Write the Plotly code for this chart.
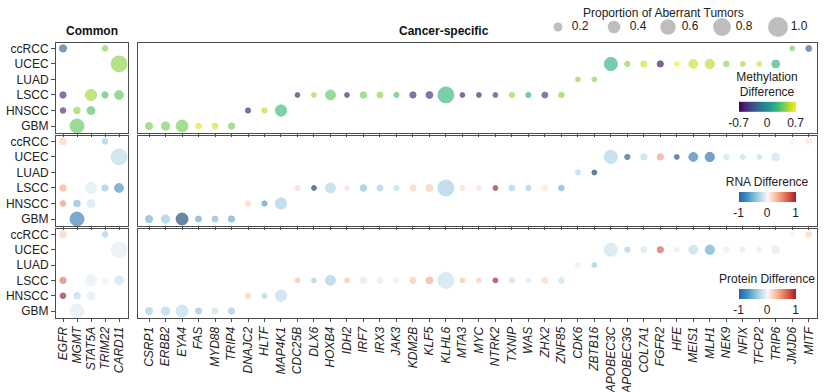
import plotly.graph_objects as go
import plotly.colors as pc

# ---------------- data ----------------
cancers = ["GBM", "HNSCC", "LSCC", "LUAD", "UCEC", "ccRCC"]  # bottom -> top

common_genes = ["EGFR", "MGMT", "STAT5A", "TRIM22", "CARD11"]
common_gene = ["EGFR", "TRIM22", "CARD11", "EGFR", "STAT5A", "TRIM22", "CARD11",
               "EGFR", "MGMT", "STAT5A", "MGMT"]
common_cancer = ["ccRCC", "ccRCC", "UCEC", "LSCC", "LSCC", "LSCC", "LSCC",
                 "HNSCC", "HNSCC", "HNSCC", "GBM"]
common_prop = [0.13, 0.08, 0.64, 0.10, 0.32, 0.10, 0.20, 0.08, 0.11, 0.16, 0.49]
common_meth = [-0.25, 0.45, 0.45, -0.55, 0.50, 0.30, 0.35, -0.55, 0.45, 0.30, 0.35]
common_rna = [0.20, -0.35, -0.25, 0.40, -0.12, -0.40, -0.75, 0.50, -0.50, -0.15, -0.90]
common_prot = [0.20, -0.35, -0.08, 0.65, -0.08, -0.05, -0.20, 1.20, -0.25, -0.12, -0.10]

spec_genes = ["CSRP1", "ERBB2", "EYA4", "FAS", "MYD88", "TRIP4", "DNAJC2", "HLTF",
              "MAP4K1", "CDC25B", "DLX6", "HOXB4", "IDH2", "IRF7", "IRX3", "JAK3",
              "KDM2B", "KLF5", "KLHL6", "MTA3", "MYC", "NTRK2", "TXNIP", "WAS",
              "ZHX2", "ZNF85", "CDK6", "ZBTB16", "APOBEC3C", "APOBEC3G", "COL7A1",
              "FGFR2", "HFE", "MEIS1", "MLH1", "NEK9", "NFIX", "TFCP2", "TRIP6",
              "JMJD6", "MITF"]
spec_cancer = ["GBM", "GBM", "GBM", "GBM", "GBM", "GBM", "HNSCC", "HNSCC", "HNSCC",
               "LSCC", "LSCC", "LSCC", "LSCC", "LSCC", "LSCC", "LSCC", "LSCC", "LSCC",
               "LSCC", "LSCC", "LSCC", "LSCC", "LSCC", "LSCC", "LSCC", "LSCC",
               "LUAD", "LUAD", "UCEC", "UCEC", "UCEC", "UCEC", "UCEC", "UCEC", "UCEC",
               "UCEC", "UCEC", "UCEC", "UCEC", "ccRCC", "ccRCC"]
spec_prop = [0.13, 0.17, 0.36, 0.09, 0.09, 0.10, 0.07, 0.07, 0.32,
             0.06, 0.06, 0.25, 0.06, 0.11, 0.09, 0.07, 0.10, 0.12, 0.64, 0.06,
             0.06, 0.06, 0.08, 0.07, 0.09, 0.08, 0.06, 0.06,
             0.44, 0.07, 0.10, 0.10, 0.06, 0.20, 0.22, 0.08, 0.06, 0.06, 0.16,
             0.06, 0.09]
spec_meth = [0.42, 0.40, 0.40, 0.65, 0.60, 0.40, -0.60, 0.55, 0.25,
             -0.60, 0.50, 0.35, -0.60, 0.40, 0.45, 0.30, -0.55, -0.55, 0.22, -0.60,
             -0.60, -0.55, 0.50, 0.20, -0.50, 0.45, 0.45, 0.45,
             0.20, 0.45, 0.60, -0.65, 0.70, 0.60, 0.55, 0.45, 0.50, 0.62, 0.20,
             0.40, -0.30]
spec_rna = [-0.55, -0.40, -1.40, -0.60, -0.50, -0.60, 0.20, -0.70, -0.35,
            0.20, -1.50, -0.30, 0.15, -0.45, -0.35, -0.25, 0.20, 0.25, -0.35, 0.15,
            0.15, 1.20, -0.35, -0.35, 0.10, -0.55, -0.30, -1.50,
            -0.30, -1.20, -0.25, 0.45, -1.30, -0.95, -1.00, -0.18, -0.25, -0.25, -0.18,
            0.05, 0.12]
spec_prot = [-0.35, -0.30, -0.25, -0.45, -0.20, -0.40, 0.25, -0.30, -0.25,
             0.30, -0.35, -0.35, 0.30, -0.12, -0.12, -0.08, 0.25, 0.40, -0.20, 0.30,
             0.25, 1.20, -0.20, -0.10, 0.20, -0.20, -0.08, -0.40,
             -0.18, -0.35, -0.15, 0.75, -0.08, -0.25, -0.60, -0.08, -0.12, -0.10, -0.10,
             0.05, 0.20]

legend_props = [0.2, 0.4, 0.6, 0.8, 1.0]
legend_labels = ["0.2", "0.4", "0.6", "0.8", "1.0"]

# ---------------- styling ----------------
FONT = "Liberation Sans, Arial, Helvetica, sans-serif"
W, H = 825, 392
MAXPX = 20
SIZEREF = 2.0 * 1.0 / (MAXPX ** 2)
AX = "#4d4d4d"


def rgba(hexc, a):
    r, g, b = pc.hex_to_rgb(hexc)
    return f"rgba({r},{g},{b},{a})"


# viridis
vir = pc.sequential.Viridis
vir_scale = [[i / (len(vir) - 1), c] for i, c in enumerate(vir)]
vir_fill = [[p, rgba(c, 0.92)] for p, c in vir_scale]

# RdBu (data range wider than bar range)
rd_vals = [-1.5, -1.0, -0.7, -0.4, -0.15, 0, 0.15, 0.4, 0.7, 1.0, 1.5]
rd_cols = ['#053061', '#2166ac', '#4393c3', '#92c5de', '#d1e5f0', '#f7f7f7',
           '#fddbc7', '#f4a582', '#d6604d', '#b2182b', '#67001f']
rd_scale = [[(v + 1.5) / 3.0, c] for v, c in zip(rd_vals, rd_cols)]
rd_fill = [[p, rgba(c, 0.88)] for p, c in rd_scale]
rd_bar = [[(v + 1) / 2.0, c] for v, c in zip(rd_vals, rd_cols) if -1 <= v <= 1]

# panel geometry in pixels
xdom = [(56, 128), (138, 817)]
ydom = [(43, 133), (136, 226), (229, 318)]
xr = [[-0.5, 4.64], [-0.67, 40.5]]
yr = [-0.45, 5.35]

fig = go.Figure()

rows = [
    (common_meth, spec_meth, vir_fill, vir_scale, -0.7, 0.7),
    (common_rna, spec_rna, rd_fill, rd_scale, -1.5, 1.5),
    (common_prot, spec_prot, rd_fill, rd_scale, -1.5, 1.5),
]

layout = {}
for r in range(3):
    cvals, svals, fillscale, linescale, cmin, cmax = rows[r]
    for c in range(2):
        idx = r * 2 + c + 1
        xa = "x" if idx == 1 else f"x{idx}"
        ya = "y" if idx == 1 else f"y{idx}"
        genes = common_genes if c == 0 else spec_genes
        xs = common_gene if c == 0 else spec_genes
        ys = common_cancer if c == 0 else spec_cancer
        props = common_prop if c == 0 else spec_prop
        vals = cvals if c == 0 else svals
        fig.add_trace(go.Scatter(
            x=xs, y=ys, mode="markers", xaxis=xa, yaxis=ya,
            marker=dict(size=props, sizemode="area", sizeref=SIZEREF,
                        color=vals, colorscale=fillscale, cmin=cmin, cmax=cmax,
                        line=dict(color=vals, colorscale=linescale, cmin=cmin,
                                  cmax=cmax, width=0.8),
                        showscale=False),
            hoverinfo="x+y", showlegend=False))
        x0, x1 = xdom[c]
        y0, y1 = ydom[r]
        layout[f"xaxis{'' if idx == 1 else idx}"] = dict(
            domain=[x0 / W, x1 / W], range=xr[c], type="category",
            categoryorder="array", categoryarray=genes,
            tickvals=genes, ticktext=[f"<i>{g}</i>" for g in genes],
            showticklabels=(r == 2), tickangle=-90,
            tickfont=dict(family=FONT, size=12, color="#222"),
            ticks="outside", ticklen=3, tickcolor=AX, tickwidth=1,
            showline=True, mirror=True, linecolor=AX, linewidth=1,
            showgrid=False, zeroline=False, anchor=ya, automargin=False,
            fixedrange=True)
        layout[f"yaxis{'' if idx == 1 else idx}"] = dict(
            domain=[1 - y1 / H, 1 - y0 / H], range=yr, type="category",
            categoryorder="array", categoryarray=cancers,
            showticklabels=(c == 0), ticks="outside" if c == 0 else "",
            ticklen=4, tickcolor=AX,
            tickfont=dict(family=FONT, size=12, color="#222"),
            showline=True, mirror=True, linecolor=AX, linewidth=1,
            showgrid=False, zeroline=False, anchor=xa, automargin=False,
            fixedrange=True)

# colorbars (display only)
cb_common = dict(orientation="h", xanchor="center", yanchor="middle",
                 len=57, lenmode="pixels", thickness=10, thicknessmode="pixels",
                 outlinewidth=0, ticks="", xpad=0, ypad=0,
                 tickfont=dict(family=FONT, size=12, color="#222"))
cbars = [
    ("Methylation<br>Difference", vir_scale, -0.7, 0.7, [-0.7, 0, 0.7], ["-0.7", "0", "0.7"], 99),
    ("RNA Difference", rd_bar, -1, 1, [-1, 0, 1], ["-1", "0", "1"], 197),
    ("Protein Difference", rd_bar, -1, 1, [-1, 0, 1], ["-1", "0", "1"], 294),
]
for i, (title, scale, lo, hi, tv, tt, ypx) in enumerate(cbars):
    cb = dict(cb_common, x=767 / W, y=1 - ypx / H, tickvals=tv, ticktext=tt,
              title=dict(text=title, side="top",
                         font=dict(family=FONT, size=12, color="#222")))
    fig.add_trace(go.Scatter(
        x=[None], y=[None], mode="markers", xaxis="x7", yaxis="y7",
        marker=dict(color=[lo, hi], colorscale=scale, cmin=lo, cmax=hi,
                    showscale=True, colorbar=cb),
        hoverinfo="skip", showlegend=False))

# size legend on an overlay pixel axis
leg_x = [558, 614, 668, 722, 778]
leg_tx = [580, 638, 690, 744, 799]
fig.add_trace(go.Scatter(
    x=leg_x, y=[27] * 5, mode="markers", xaxis="x7", yaxis="y7",
    marker=dict(size=legend_props, sizemode="area", sizeref=SIZEREF,
                color="#a3a3a3", line=dict(width=0)),
    hoverinfo="skip", showlegend=False))
fig.add_trace(go.Scatter(
    x=leg_tx, y=[27] * 5, mode="text", text=legend_labels, xaxis="x7", yaxis="y7",
    textfont=dict(family=FONT, size=12, color="#222"),
    hoverinfo="skip", showlegend=False))

layout["xaxis7"] = dict(domain=[0, 1], range=[0, W], visible=False, fixedrange=True,
                        anchor="y7")
layout["yaxis7"] = dict(domain=[0, 1], range=[H, 0], visible=False, fixedrange=True,
                        anchor="x7")

annotations = [
    dict(text="<b>Common</b>", x=92 / W, y=1 - 31 / H, xref="paper", yref="paper",
         xanchor="center", yanchor="middle",
         showarrow=False, font=dict(family=FONT, size=12, color="#111")),
    dict(text="<b>Cancer-specific</b>", x=444 / W, y=1 - 31 / H, xref="paper",
         yref="paper", xanchor="center", yanchor="middle",
         showarrow=False, font=dict(family=FONT, size=12, color="#111")),
    dict(text="Proportion of Aberrant Tumors", x=663 / W, y=1 - 13 / H, xref="paper",
         yref="paper", xanchor="center", yanchor="middle",
         showarrow=False, font=dict(family=FONT, size=12, color="#222")),
]

fig.update_layout(width=W, height=H, margin=dict(l=0, r=0, t=0, b=0),
                  paper_bgcolor="white", plot_bgcolor="rgba(0,0,0,0)",
                  font=dict(family=FONT, size=12, color="#222"),
                  hovermode="closest",
                  annotations=annotations, **layout)

fig.write_html("out.html", config={"displayModeBar": False},
               post_script="document.body.style.margin='0';"
                           "document.body.style.overflow='hidden';")
